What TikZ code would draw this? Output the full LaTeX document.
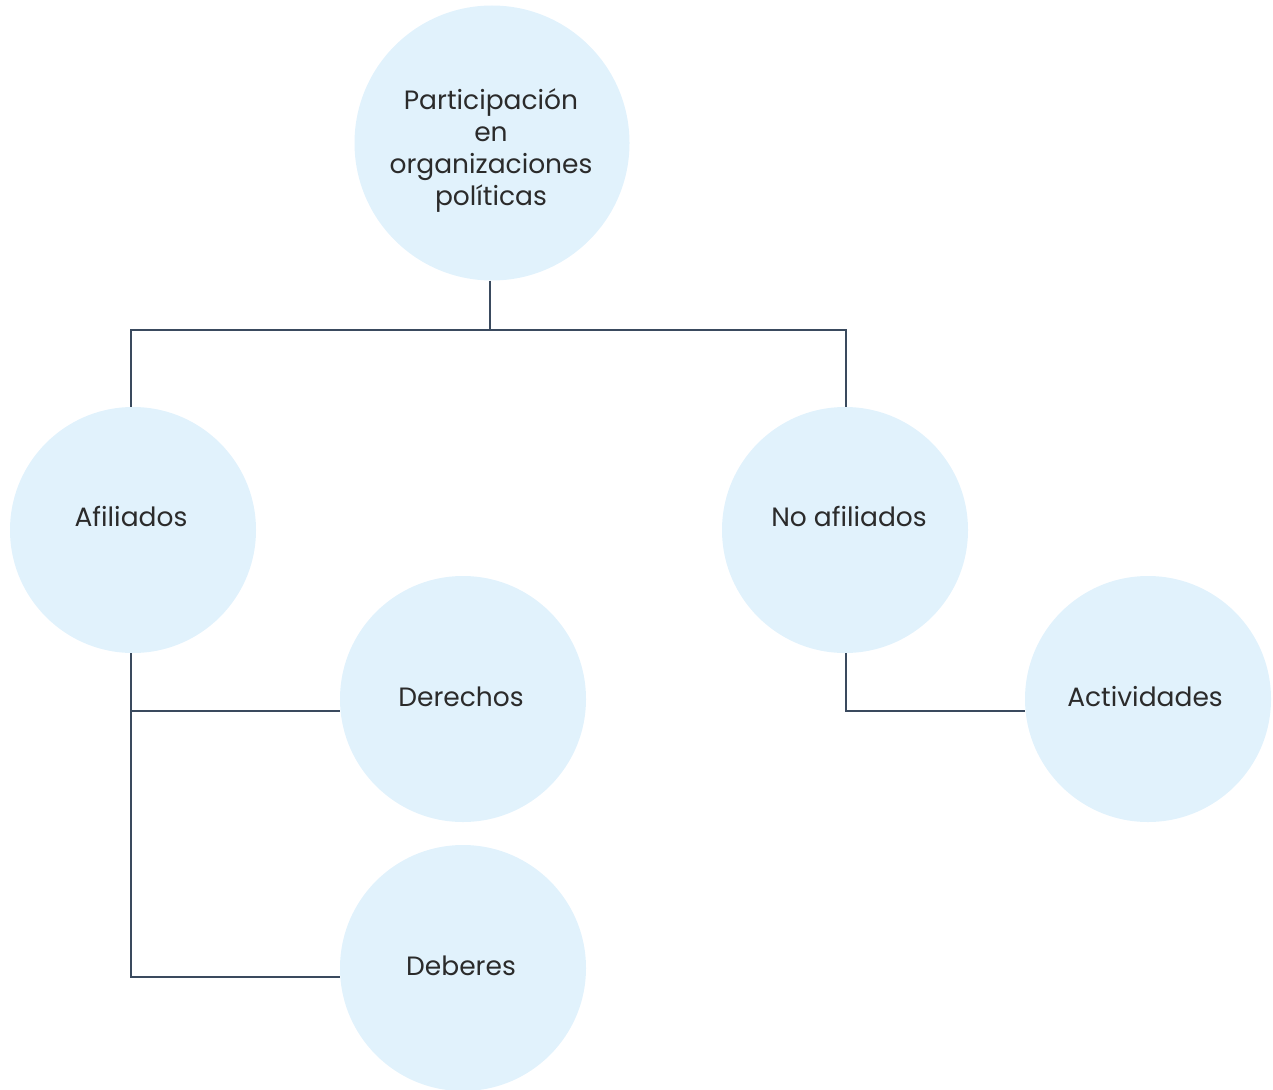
\documentclass[tikz,border=0pt]{standalone}
\usepackage{fontspec}
\setmainfont{Poppins}
\definecolor{bubble}{HTML}{E1F2FC}
\definecolor{linec}{HTML}{3A4A5E}
\definecolor{txt}{HTML}{2B2B2B}
\begin{document}
\begin{tikzpicture}[x=1pt,y=-1pt,
  bub/.style={circle,fill=bubble,draw=none,inner sep=0pt,minimum size=246pt},
  lbl/.style={text=txt,font=\fontsize{26.5}{32}\selectfont,align=center},
  conn/.style={draw=linec,line width=2.6pt}]
\useasboundingbox (0,0) rectangle (1273,1089);
\node[bub,minimum size=275pt] (top) at (492,143) {};
\node[bub] (afi) at (133,530) {};
\node[bub] (noafi) at (845,530) {};
\node[bub] (der) at (463,699) {};
\node[bub] (deb) at (463,968) {};
\node[bub] (act) at (1148,699) {};
\node[lbl] (ttop) at (491,150) {Participación\\en\\organizaciones\\políticas};
\node[lbl] (tafi) at (131,516) {Afiliados};
\node[lbl] (tnoafi) at (849,516) {No afiliados};
\node[lbl] (tder) at (461,697) {Derechos};
\node[lbl] (tdeb) at (461,966) {Deberes};
\node[lbl] (tact) at (1145,697) {Actividades};
\coordinate (j1) at (490,330);
\draw[conn] (top.south -| j1) -- (j1);
\draw[conn] (afi.north -| 131,0) -- (131,330) -- (846,330) -- (noafi.north -| 846,0);
\draw[conn] (afi.south -| 131,0) -- (131,977) -- (deb.west |- 0,977);
\draw[conn] (131,711) -- (der.west |- 0,711);
\draw[conn] (noafi.south -| 846,0) -- (846,711) -- (act.west |- 0,711);
\end{tikzpicture}
\end{document}
